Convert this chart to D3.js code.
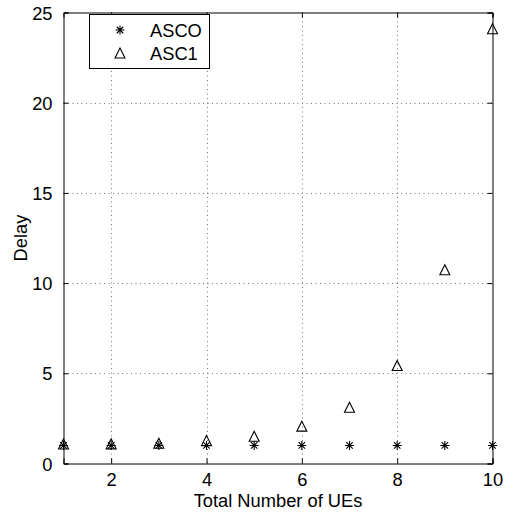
<!DOCTYPE html>
<html>
<head>
<meta charset="utf-8">
<script src="https://cdn.jsdelivr.net/npm/d3@7/dist/d3.min.js"></script>
<style>
  html, body { margin: 0; padding: 0; background: #fff; }
  text { font-family: "Liberation Sans", Arial, Helvetica, sans-serif; }
</style>
</head>
<body>
<svg id="chart" width="510" height="515"></svg>
<script>
const ues = [1, 2, 3, 4, 5, 6, 7, 8, 9, 10];
const asc0 = [1.0, 1.0, 1.0, 1.0, 1.0, 1.0, 1.0, 1.0, 1.0, 1.0];
const asc1 = [1.08, 1.09, 1.12, 1.27, 1.51, 2.07, 3.12, 5.43, 10.74, 24.1];
const xTicks = [2, 4, 6, 8, 10];
const yTicks = [0, 5, 10, 15, 20, 25];
const seriesNames = ["ASCO", "ASC1"];

const svg = d3.select("#chart");
const L = 63.5, R = 492.5, T = 12.5, B = 463.5;
const x = d3.scaleLinear().domain([1, 10]).range([L, R]);
const y = d3.scaleLinear().domain([0, 25]).range([B, T]);
const fs = 18.3;

// grid
const grid = svg.append("g").attr("stroke", "#777").attr("stroke-width", 1).attr("stroke-dasharray", "1,3.5");
grid.selectAll(".gx").data(xTicks.filter(d => d > 1 && d < 10)).enter().append("line")
  .attr("x1", d => Math.round(x(d)) + 0.5).attr("x2", d => Math.round(x(d)) + 0.5)
  .attr("y1", T).attr("y2", B);
grid.selectAll(".gy").data(yTicks.filter(d => d > 0 && d < 25)).enter().append("line")
  .attr("y1", d => Math.round(y(d)) + 0.5).attr("y2", d => Math.round(y(d)) + 0.5)
  .attr("x1", L).attr("x2", R);

// axes (inward ticks) using d3 axes
const axB = svg.append("g").attr("transform", `translate(0,${B})`)
  .call(d3.axisBottom(x).tickValues(xTicks).tickSize(-5).tickPadding(10).tickFormat(d3.format("d")));
const axT = svg.append("g").attr("transform", `translate(0,${T})`)
  .call(d3.axisTop(x).tickValues(xTicks).tickSize(-5).tickFormat(""));
const axL = svg.append("g").attr("transform", `translate(${L},0)`)
  .call(d3.axisLeft(y).tickValues(yTicks).tickSize(-5).tickPadding(11).tickFormat(d3.format("d")));
const axR = svg.append("g").attr("transform", `translate(${R},0)`)
  .call(d3.axisRight(y).tickValues(yTicks).tickSize(-5).tickFormat(""));
[axB, axT, axL, axR].forEach(a => {
  a.select(".domain").attr("stroke", "#000").attr("stroke-width", 1);
  a.selectAll(".tick line").attr("stroke", "#000");
  a.selectAll("text").attr("font-size", fs).attr("fill", "#000")
    .style("font-family", '"Liberation Sans", Arial, sans-serif');
});
axB.selectAll("text").attr("dy", "0.71em");
axL.selectAll("text").attr("dy", "0.36em");

// markers
function starPath(cx, cy, s) {
  const d = s * 0.72;
  return `M${cx - s},${cy}H${cx + s}M${cx},${cy - s}V${cy + s}` +
    `M${cx - d},${cy - d}L${cx + d},${cy + d}M${cx - d},${cy + d}L${cx + d},${cy - d}`;
}
function triPath(cx, cy, s) {
  return `M${cx},${cy - s}L${cx + s},${cy + s}L${cx - s},${cy + s}Z`;
}

const data0 = ues.map((u, i) => ({ u, v: asc0[i] }));
const data1 = ues.map((u, i) => ({ u, v: asc1[i] }));

svg.append("g").selectAll("path").data(data0).enter().append("path")
  .attr("d", d => starPath(x(d.u), y(d.v), 4.5))
  .attr("stroke", "#000").attr("stroke-width", 1.1).attr("fill", "none");
svg.append("g").selectAll("path").data(data1).enter().append("path")
  .attr("d", d => triPath(x(d.u), y(d.v), 5))
  .attr("stroke", "#000").attr("stroke-width", 1.1).attr("fill", "none");

// labels
svg.append("text").attr("x", (L + R) / 2).attr("y", 507)
  .attr("text-anchor", "middle").attr("font-size", fs).text("Total Number of UEs");
svg.append("text").attr("transform", `translate(26.5,${(T + B) / 2}) rotate(-90)`)
  .attr("text-anchor", "middle").attr("font-size", fs).text("Delay");

// legend
const lg = svg.append("g");
lg.append("rect").attr("x", 89.5).attr("y", 14.5).attr("width", 120).attr("height", 54)
  .attr("fill", "#fff").attr("stroke", "#000").attr("stroke-width", 1);
lg.append("path").attr("d", starPath(120, 30, 4.5)).attr("stroke", "#000").attr("stroke-width", 1.1).attr("fill", "none");
lg.append("path").attr("d", triPath(120, 53, 5)).attr("stroke", "#000").attr("stroke-width", 1.1).attr("fill", "none");
lg.append("text").attr("x", 150).attr("y", 37).attr("font-size", fs).text(seriesNames[0]);
lg.append("text").attr("x", 150).attr("y", 60).attr("font-size", fs).text(seriesNames[1]);
</script>
</body>
</html>
